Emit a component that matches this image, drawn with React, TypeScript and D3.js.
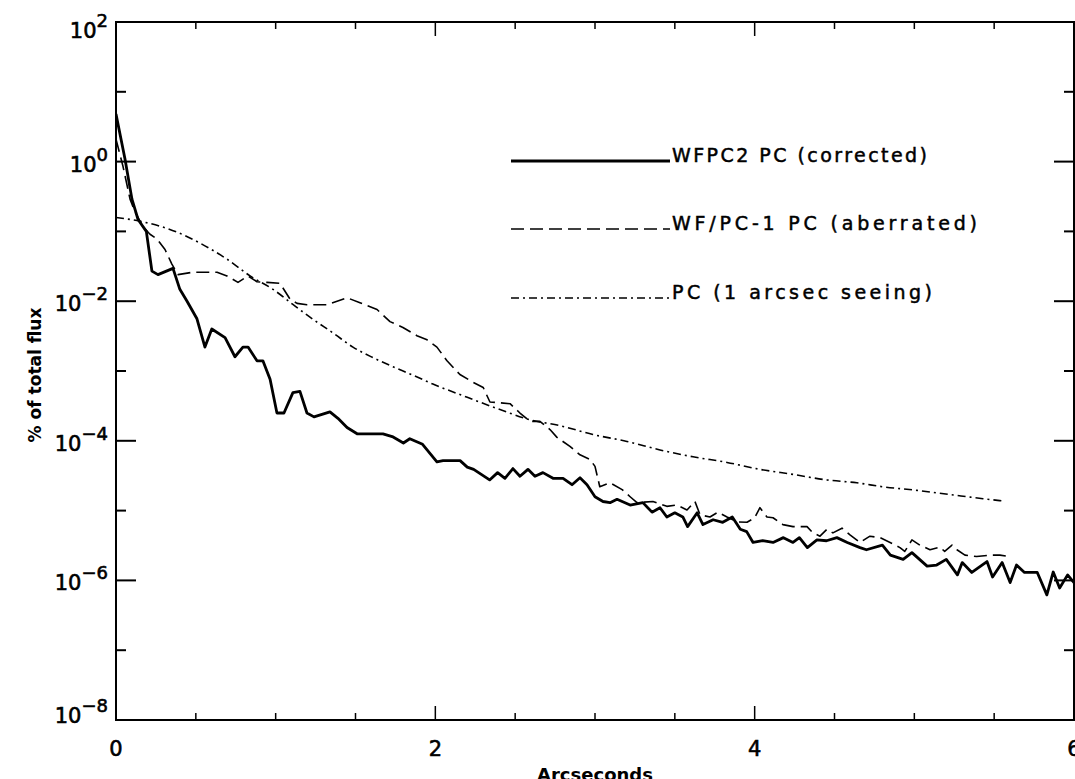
import React from "react";
import * as d3 from "d3";

// [arcseconds, % of total flux]
const wfpc2Corrected: [number, number][] = [
  [0, 4.8], [0.056, 1.1], [0.1, 0.29], [0.138, 0.148], [0.19, 0.1], [0.225, 0.027], [0.263, 0.024],
  [0.357, 0.0295], [0.4, 0.0148], [0.445, 0.01], [0.507, 0.0056], [0.557, 0.0022], [0.6, 0.004],
  [0.683, 0.003], [0.745, 0.0016], [0.795, 0.0022], [0.827, 0.0022], [0.883, 0.0014], [0.92, 0.0014],
  [0.965, 7.6e-4], [1.008, 2.5e-4], [1.052, 2.5e-4], [1.108, 4.9e-4], [1.152, 5.1e-4], [1.196, 2.5e-4],
  [1.24, 2.2e-4], [1.34, 2.6e-4], [1.39, 2.1e-4], [1.447, 1.55e-4], [1.51, 1.26e-4], [1.672, 1.26e-4],
  [1.73, 1.15e-4], [1.8, 9.3e-5], [1.84, 1.07e-4], [1.92, 8.9e-5], [2.01, 5.0e-5], [2.048, 5.2e-5],
  [2.155, 5.2e-5], [2.2, 4.2e-5], [2.24, 3.9e-5], [2.34, 2.75e-5], [2.39, 3.5e-5], [2.436, 2.9e-5],
  [2.486, 4.0e-5], [2.53, 3.1e-5], [2.58, 3.9e-5], [2.624, 3.1e-5], [2.674, 3.5e-5], [2.737, 2.9e-5],
  [2.8, 2.9e-5], [2.856, 2.35e-5], [2.906, 2.95e-5], [2.95, 2.35e-5], [3.0, 1.58e-5], [3.05, 1.35e-5],
  [3.094, 1.3e-5], [3.138, 1.45e-5], [3.22, 1.2e-5], [3.3, 1.3e-5], [3.357, 9.5e-6], [3.407, 1.1e-5],
  [3.45, 8.1e-6], [3.5, 9.3e-6], [3.55, 8.1e-6], [3.58, 5.9e-6], [3.64, 9.3e-6], [3.676, 6.3e-6],
  [3.74, 7.4e-6], [3.8, 6.8e-6], [3.86, 8.1e-6], [3.91, 5.4e-6], [3.95, 5.0e-6], [3.99, 3.5e-6],
  [4.05, 3.7e-6], [4.115, 3.5e-6], [4.18, 4.1e-6], [4.24, 3.5e-6], [4.28, 4.1e-6], [4.33, 2.95e-6],
  [4.39, 3.8e-6], [4.45, 3.7e-6], [4.515, 4.1e-6], [4.58, 3.5e-6], [4.66, 2.95e-6], [4.7, 2.75e-6],
  [4.8, 3.2e-6], [4.85, 2.3e-6], [4.93, 2.0e-6], [4.985, 2.5e-6], [5.08, 1.6e-6], [5.14, 1.66e-6],
  [5.2, 2.0e-6], [5.27, 1.2e-6], [5.3, 1.8e-6], [5.36, 1.3e-6], [5.455, 1.86e-6], [5.49, 1.12e-6],
  [5.55, 1.8e-6], [5.6, 9.3e-7], [5.64, 1.66e-6], [5.69, 1.3e-6], [5.77, 1.3e-6], [5.83, 6.2e-7],
  [5.87, 1.32e-6], [5.91, 7.8e-7], [5.96, 1.2e-6], [6.0, 9.3e-7],
];

const wfpc1Aberrated: [number, number][] = [
  [0, 2.1], [0.044, 0.85], [0.088, 0.29], [0.119, 0.19], [0.169, 0.117], [0.213, 0.091], [0.257, 0.078],
  [0.307, 0.055], [0.35, 0.034], [0.388, 0.024], [0.482, 0.026], [0.633, 0.026], [0.695, 0.023],
  [0.764, 0.0186], [0.827, 0.023], [0.883, 0.019], [0.946, 0.0186], [1.027, 0.018], [1.09, 0.0107],
  [1.134, 0.0093], [1.196, 0.0089], [1.32, 0.0089], [1.447, 0.0112], [1.528, 0.0095], [1.635, 0.0076],
  [1.716, 0.0051], [1.797, 0.0042], [1.885, 0.0032], [1.948, 0.0028], [2.01, 0.0022], [2.073, 0.0014],
  [2.154, 8.9e-4], [2.236, 6.9e-4], [2.3, 5.8e-4], [2.342, 3.6e-4], [2.405, 3.5e-4], [2.468, 3.4e-4],
  [2.53, 2.5e-4], [2.593, 1.9e-4], [2.655, 1.9e-4], [2.718, 1.45e-4], [2.762, 1.12e-4], [2.843, 8.3e-5],
  [2.906, 6.3e-5], [2.969, 5.4e-5], [3.0, 4.3e-5], [3.03, 2.2e-5], [3.094, 2.5e-5], [3.17, 2.0e-5],
  [3.22, 1.58e-5], [3.263, 1.3e-5], [3.363, 1.35e-5], [3.45, 1.15e-5], [3.513, 1.2e-5], [3.576, 1.02e-5],
  [3.626, 1.35e-5], [3.658, 8.7e-6], [3.72, 8.1e-6], [3.77, 9.5e-6], [3.827, 8.1e-6], [3.89, 6.9e-6],
  [3.952, 6.8e-6], [4.0, 7.9e-6], [4.033, 1.1e-5], [4.077, 8.1e-6], [4.115, 7.9e-6], [4.177, 6.3e-6],
  [4.24, 5.9e-6], [4.328, 5.9e-6], [4.365, 4.8e-6], [4.409, 4.3e-6], [4.453, 5.4e-6], [4.49, 4.8e-6],
  [4.547, 5.6e-6], [4.597, 4.5e-6], [4.66, 3.5e-6], [4.722, 4.3e-6], [4.785, 4.1e-6], [4.848, 3.5e-6],
  [4.91, 2.95e-6], [4.94, 2.6e-6], [4.985, 3.8e-6], [5.035, 3.2e-6], [5.098, 2.75e-6], [5.16, 3.0e-6],
  [5.19, 2.6e-6], [5.236, 3.2e-6], [5.267, 2.75e-6], [5.317, 2.3e-6], [5.39, 2.2e-6], [5.474, 2.3e-6],
  [5.536, 2.3e-6], [5.6, 2.2e-6],
];

const seeing1arcsec: [number, number][] = [
  [0, 0.158], [0.15, 0.14], [0.38, 0.098], [0.526, 0.068], [0.695, 0.04], [0.84, 0.023], [0.983, 0.0148],
  [1.11, 0.0089], [1.234, 0.0055], [1.36, 0.0035], [1.484, 0.0022], [1.61, 0.00155], [1.735, 0.00115],
  [1.86, 8.7e-4], [1.985, 6.5e-4], [2.2, 4.2e-4], [2.405, 2.8e-4], [2.593, 2.0e-4], [2.78, 1.65e-4],
  [2.987, 1.23e-4], [3.2, 9.8e-5], [3.407, 7.4e-5], [3.614, 5.9e-5], [3.827, 4.9e-5], [4.033, 3.9e-5],
  [4.24, 3.3e-5], [4.453, 2.75e-5], [4.64, 2.5e-5], [4.8, 2.2e-5], [5.017, 1.95e-5], [5.223, 1.7e-5],
  [5.43, 1.48e-5], [5.55, 1.38e-5],
];

const legendLabels = ["WFPC2 PC (corrected)", "WF/PC-1 PC (aberrated)", "PC (1 arcsec seeing)"];
const xLabelTicks = [0, 2, 4, 6];
const xMinorTicks = [0.5, 1, 1.5, 2.5, 3, 3.5, 4.5, 5, 5.5];
const yExponents = [2, 1, 0, -1, -2, -3, -4, -5, -6, -7, -8];
const xTitle = "Arcseconds";
const yTitle = "% of total flux";

const W = 1075;
const H = 779;
const L = 116, R = 1074, T = 22, B = 720;

export default function App() {
  const x = d3.scaleLinear().domain([0, 6]).range([L, R]);
  const y = d3.scaleLog().domain([1e-8, 1e2]).range([B, T]);
  const line = d3.line<[number, number]>().x((d) => x(d[0])).y((d) => y(d[1]));
  const smooth = d3.line<[number, number]>().x((d) => x(d[0])).y((d) => y(d[1])).curve(d3.curveMonotoneX);

  const font = "'DejaVu Sans', sans-serif";
  const series = [
    { data: wfpc2Corrected, width: 2.8, dash: undefined as string | undefined, gen: line, legendW: 255 },
    { data: wfpc1Aberrated, width: 1.6, dash: "13,6", gen: line, legendW: 305 },
    { data: seeing1arcsec, width: 1.6, dash: "8,4,2,4", gen: smooth, legendW: 260 },
  ];
  const legendY = [161, 229, 298];

  const labelOffset = (e: number) => (e === 2 ? 16 : e === -8 ? 3 : 10);

  return (
    <svg width={W} height={H} style={{ position: "absolute", left: 0, top: 0, background: "#fff" }}>
      <defs>
        <clipPath id="plotClip">
          <rect x={L} y={T} width={R - L} height={B - T} />
        </clipPath>
      </defs>
      <rect x={0} y={0} width={W} height={H} fill="#fff" />

      <g clipPath="url(#plotClip)" fill="none" stroke="#000" strokeLinejoin="round">
        {series.map((s, i) => (
          <path key={i} d={s.gen(s.data) || ""} strokeWidth={s.width} strokeDasharray={s.dash} />
        ))}
      </g>

      {/* frame */}
      <rect x={L} y={T} width={R - L} height={B - T} fill="none" stroke="#000" strokeWidth={2} />

      {/* y ticks */}
      {yExponents.map((e) => {
        const yy = y(Math.pow(10, e));
        const major = e % 2 === 0;
        const len = major ? 20 : 10;
        return (
          <g key={"y" + e} stroke="#000" strokeWidth={2}>
            <line x1={L} x2={L + len} y1={yy} y2={yy} />
            <line x1={R} x2={R - len} y1={yy} y2={yy} />
          </g>
        );
      })}
      {yExponents.filter((e) => e % 2 === 0).map((e) => {
        const yy = y(Math.pow(10, e));
        return (
          <text key={"yl" + e} x={108} y={yy + labelOffset(e)} textAnchor="end" fontFamily={font} fontSize={21}
            fill="#000" stroke="#000" strokeWidth={0.6}>
            10
            <tspan dy={-11} fontSize={18}>{e < 0 ? "\u2212" + Math.abs(e) : String(e)}</tspan>
          </text>
        );
      })}

      {/* x ticks */}
      {xMinorTicks.map((v) => (
        <g key={"xm" + v} stroke="#000" strokeWidth={1.5}>
          <line x1={x(v)} x2={x(v)} y1={B} y2={B - 7} />
          <line x1={x(v)} x2={x(v)} y1={T} y2={T + 7} />
        </g>
      ))}
      {xLabelTicks.map((v) => (
        <g key={"xM" + v}>
          <line x1={x(v)} x2={x(v)} y1={B} y2={B - 14} stroke="#000" strokeWidth={1.5} />
          <line x1={x(v)} x2={x(v)} y1={T} y2={T + 14} stroke="#000" strokeWidth={1.5} />
          <text x={x(v)} y={756} textAnchor="middle" fontFamily={font} fontSize={21} fill="#000"
            stroke="#000" strokeWidth={0.6}>
            {String(v)}
          </text>
        </g>
      ))}

      {/* axis titles */}
      <text x={x(3)} y={781} textAnchor="middle" fontFamily={font} fontSize={18} fontWeight="bold" fill="#000">
        {xTitle}
      </text>
      <text
        transform={`translate(41,375) rotate(-90)`}
        textAnchor="middle"
        fontFamily={font}
        fontSize={17}
        fontWeight="bold"
        fill="#000"
      >
        {yTitle}
      </text>

      {/* legend */}
      {series.map((s, i) => (
        <g key={"lg" + i}>
          <line x1={511} x2={670} y1={legendY[i]} y2={legendY[i]} stroke="#000" strokeWidth={s.width}
            strokeDasharray={s.dash} />
          <text
            x={672}
            y={legendY[i] + 1}
            fontFamily={font}
            fontSize={19}
            fill="#000"
            stroke="#000"
            strokeWidth={0.5}
            textLength={s.legendW}
            lengthAdjust="spacing"
          >
            {legendLabels[i]}
          </text>
        </g>
      ))}
    </svg>
  );
}
